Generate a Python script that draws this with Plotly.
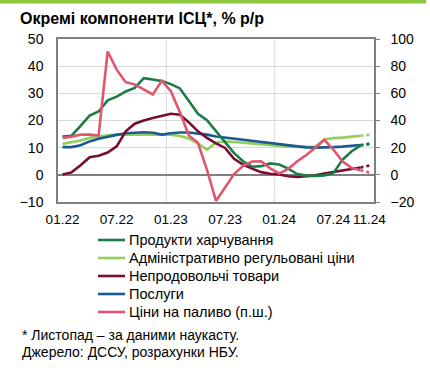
import plotly.graph_objects as go

months = ["01.22", "02.22", "03.22", "04.22", "05.22", "06.22", "07.22", "08.22", "09.22", "10.22", "11.22", "12.22",
          "01.23", "02.23", "03.23", "04.23", "05.23", "06.23", "07.23", "08.23", "09.23", "10.23", "11.23", "12.23",
          "01.24", "02.24", "03.24", "04.24", "05.24", "06.24", "07.24", "08.24", "09.24", "10.24", "11.24"]
tick_labels = ["01.22", "07.22", "01.23", "07.23", "01.24", "07.24", "11.24"]

food = [14.1, 14.4, 18.0, 21.8, 23.3, 27.4, 28.8, 30.7, 32.0, 35.6, 35.1, 34.5, 33.4, 31.8, 27.2, 22.5, 20.1, 16.0,
        12.0, 8.0, 5.0, 3.0, 3.2, 4.2, 3.8, 2.3, 0.3, -0.3, -0.4, -0.2, 0.6, 5.5, 8.6, 10.8, 11.5]
admin = [11.4, 11.9, 12.6, 13.6, 14.1, 14.6, 14.8, 14.8, 14.8, 14.8, 14.7, 14.6, 14.8, 14.3, 13.4, 11.5, 9.3, 11.8,
         12.3, 12.1, 11.8, 11.5, 11.2, 10.9, 10.6, 10.4, 10.3, 10.2, 10.3, 13.0, 13.5, 13.7, 14.0, 14.4, 14.7]
nonfood = [0.1, 0.9, 3.5, 6.5, 7.0, 8.2, 10.5, 16.0, 18.8, 20.0, 20.9, 21.7, 22.5, 22.1, 19.3, 16.0, 13.6, 11.6,
           9.9, 5.9, 3.8, 2.3, 1.0, 0.4, 0.1, -0.5, -0.8, -0.5, -0.2, 0.5, 1.0, 1.7, 2.2, 2.7, 3.4]
services = [10.2, 10.2, 10.9, 12.3, 13.3, 14.1, 14.7, 15.3, 15.6, 15.7, 15.5, 14.8, 15.3, 15.6, 15.6, 15.3, 14.8, 14.1,
            13.7, 13.2, 12.8, 12.4, 12.0, 11.6, 11.1, 10.8, 10.3, 10.1, 10.0, 10.0, 10.2, 10.4, 10.7, 11.0, 11.3]
fuel = [27.2, 28.0, 29.6, 29.6, 29.0, 90.8, 77.4, 68.2, 66.6, 62.6, 59.2, 69.2, 61.6, 46.0, 29.0, 23.6, 3.6, -19.2,
        -9.2, 0.6, 6.6, 9.8, 10.0, 4.8, 1.0, 4.4, 10.0, 14.6, 20.0, 25.8, 18.6, 10.0, 5.2, 3.4, 1.6]

names = ["Продукти харчування", "Адміністративно регульовані ціни", "Непродовольчі товари", "Послуги",
         "Ціни на паливо (п.ш.)"]
colors = ["#1b7d45", "#92cf5c", "#780c33", "#1c5b90", "#e0566f"]

FONT = "Arial, Liberation Sans, sans-serif"

# plot-area geometry in pixels (for placing page decorations)
L, R, T, B = 58, 56, 39, 166
W, H = 430, 368
PW, PH = W - L - R, H - T - B


def px_x(px):
    return (px - L) / PW


def px_y(py):
    return 1 - (py - T) / PH


fig = go.Figure()

# draw order: admin, services, nonfood, food, fuel
series = [
    (1, admin, "y"),
    (3, services, "y"),
    (2, nonfood, "y"),
    (0, food, "y"),
    (4, fuel, "y2"),
]
for idx, vals, ax in series:
    fig.add_trace(go.Scatter(
        x=months[:34], y=vals[:34], mode="lines", name=names[idx],
        line=dict(color=colors[idx], width=2.6), yaxis=ax, showlegend=False,
        hoverinfo="skip"))
    fig.add_trace(go.Scatter(
        x=months[33:], y=vals[33:], mode="lines", showlegend=False,
        line=dict(color=colors[idx], width=2.6, dash="dot"), yaxis=ax,
        hoverinfo="skip"))

grid_color = "#d9d9d9"
frame_color = "#808080"

fig.update_layout(
    width=W, height=H,
    margin=dict(l=L, r=R, t=T, b=B, pad=0, autoexpand=False),
    paper_bgcolor="white", plot_bgcolor="white",
    font=dict(family=FONT, size=14, color="#000000"),
    showlegend=False,
    xaxis=dict(type="category", categoryorder="array", categoryarray=months,
               range=[-0.5, 34.5], tickvals=tick_labels, ticktext=tick_labels, tickangle=0,
               showgrid=False, showline=True, mirror=True, linecolor=frame_color, linewidth=1.5,
               ticks="", ticklabelstandoff=4, tickfont=dict(size=13.5), zeroline=False),
    yaxis=dict(range=[-10, 50], dtick=10, tick0=0, showgrid=True, gridcolor=grid_color, gridwidth=1,
               zeroline=True, zerolinecolor=frame_color, zerolinewidth=1.5,
               showline=True, mirror=True, linecolor=frame_color, linewidth=1.5,
               ticks="", ticklabelstandoff=10, tickfont=dict(size=14)),
    yaxis2=dict(range=[-20, 100], dtick=20, tick0=0, overlaying="y", side="right", showgrid=False,
                zeroline=False, showline=True, linecolor=frame_color, linewidth=1.5,
                ticks="outside", ticklen=4, tickcolor=frame_color, ticklabelstandoff=8,
                tickfont=dict(size=14)),
)

# yearly vertical gridlines between categories
for xv in [11.5, 23.5]:
    fig.add_shape(type="line", xref="x", yref="paper", x0=xv, x1=xv, y0=0, y1=1,
                  line=dict(color=grid_color, width=1), layer="below")

# top green rule
fig.add_shape(type="rect", xref="paper", yref="paper",
              x0=px_x(0), x1=px_x(426), y0=px_y(3.5), y1=px_y(0),
              line=dict(width=0), fillcolor="#8dc63f", layer="above")

# legend (drawn manually to match row spacing)
legend_rows = [240, 258, 276, 294, 312]
for i, nm in enumerate(names):
    py = legend_rows[i]
    fig.add_shape(type="line", xref="paper", yref="paper",
                  x0=px_x(98), x1=px_x(125), y0=px_y(py), y1=px_y(py),
                  line=dict(color=colors[i], width=2.6))
    fig.add_annotation(text=nm, xref="paper", yref="paper", x=px_x(127), y=px_y(py),
                       xanchor="left", yanchor="middle", showarrow=False,
                       font=dict(family=FONT, size=14.5, color="#000000"))

fig.add_annotation(text="<b>Окремі компоненти ІСЦ*, % р/р</b>", xref="paper", yref="paper",
                   x=px_x(18), y=px_y(18), xanchor="left", yanchor="middle", showarrow=False,
                   font=dict(family=FONT, size=16, color="#000000"))
fig.add_annotation(text="* Листопад – за даними наукасту.", xref="paper", yref="paper",
                   x=px_x(20), y=px_y(335), xanchor="left", yanchor="middle", showarrow=False,
                   font=dict(family=FONT, size=14, color="#000000"))
fig.add_annotation(text="Джерело: ДССУ, розрахунки НБУ.", xref="paper", yref="paper",
                   x=px_x(20), y=px_y(352), xanchor="left", yanchor="middle", showarrow=False,
                   font=dict(family=FONT, size=14, color="#000000"))

fig.write_html("out.html", config={"displayModeBar": False},
               post_script="document.body.style.margin='0px';")
